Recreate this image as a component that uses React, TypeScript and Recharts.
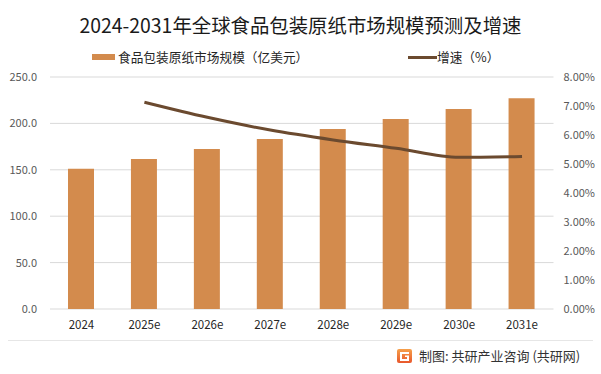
import { ComposedChart, Bar, Line, XAxis, YAxis, CartesianGrid } from 'recharts'

const YEARS = ['2024', '2025e', '2026e', '2027e', '2028e', '2029e', '2030e', '2031e']
const MARKET_SIZE = [151.0, 161.6, 172.4, 183.2, 194.0, 204.7, 215.5, 227.0]
const GROWTH_PCT = [null, 7.13, 6.61, 6.17, 5.83, 5.54, 5.23, 5.26]
const LEFT_TICKS = [0, 50, 100, 150, 200, 250]
const RIGHT_TICKS = [0, 1, 2, 3, 4, 5, 6, 7, 8]

const BAR_COLOR = '#D38B4D'
const LINE_COLOR = '#6B4A2F'
const FONT = '"Noto Sans CJK SC", "Noto Sans", sans-serif'

const data = YEARS.map((year, i) => ({
  year,
  size: MARKET_SIZE[i],
  growth: GROWTH_PCT[i],
}))

export default function App() {
  const tickStyle = { fontSize: 11, fill: '#595959', fontFamily: FONT }

  return (
    <div
      style={{
        position: 'absolute',
        left: 0,
        top: 0,
        width: 601,
        height: 374,
        background: '#fff',
        fontFamily: FONT,
        overflow: 'hidden',
      }}
    >
      {/* 标题 */}
      <div
        style={{
          position: 'absolute',
          top: 10,
          left: 0,
          width: 601,
          textAlign: 'center',
          fontSize: 19.4,
          lineHeight: '30px',
          color: '#1a1a1a',
        }}
      >
        2024-2031年全球食品包装原纸市场规模预测及增速
      </div>

      {/* 图例 */}
      <div style={{ position: 'absolute', left: 92, top: 54, width: 23, height: 6, background: BAR_COLOR }} />
      <div style={{ position: 'absolute', left: 118, top: 47, fontSize: 12.7, lineHeight: '20px', color: '#262626' }}>
        食品包装原纸市场规模（亿美元）
      </div>
      <div style={{ position: 'absolute', left: 408, top: 56, width: 29, height: 3, background: LINE_COLOR }} />
      <div style={{ position: 'absolute', left: 437, top: 47, fontSize: 12.7, lineHeight: '20px', color: '#262626' }}>
        增速（%）
      </div>

      <div style={{ position: 'absolute', left: 0, top: 0 }}>
        <ComposedChart
          width={601}
          height={374}
          data={data}
          margin={{ top: 77, right: 0, left: 0, bottom: 35 }}
        >
          <CartesianGrid yAxisId="left" vertical={false} stroke="#d9d9d9" />
          <XAxis
            dataKey="year"
            axisLine={false}
            tickLine={false}
            tickSize={0}
            tickMargin={12}
            height={30}
            tick={{ fontSize: 11.5, fill: '#262626', fontFamily: FONT }}
            interval={0}
          />
          <YAxis
            yAxisId="left"
            domain={[0, 250]}
            ticks={LEFT_TICKS}
            width={50}
            axisLine={false}
            tickLine={false}
            tickSize={0}
            tickMargin={13}
            tick={tickStyle}
            tickFormatter={(v: number) => v.toFixed(1)}
          />
          <YAxis
            yAxisId="right"
            orientation="right"
            domain={[0, 8]}
            ticks={RIGHT_TICKS}
            width={47.5}
            axisLine={false}
            tickLine={false}
            tickSize={0}
            tickMargin={10}
            tick={{ ...tickStyle, textAnchor: 'start' }}
            tickFormatter={(v: number) => `${v.toFixed(2)}%`}
          />
          <Bar yAxisId="left" dataKey="size" fill={BAR_COLOR} barSize={26} isAnimationActive={false} />
          <Line
            yAxisId="right"
            type="monotone"
            dataKey="growth"
            stroke={LINE_COLOR}
            strokeWidth={3}
            dot={false}
            activeDot={false}
            isAnimationActive={false}
          />
        </ComposedChart>
      </div>

      {/* 底部分隔线与来源 */}
      <div style={{ position: 'absolute', left: 8, top: 340, width: 585, height: 1, background: '#e6e6e6' }} />
      <svg style={{ position: 'absolute', left: 397, top: 349 }} width={15} height={14}>
        <defs>
          <linearGradient id="logoGrad" x1="0" y1="0" x2="0" y2="1">
            <stop offset="0%" stopColor="#F6A04A" />
            <stop offset="100%" stopColor="#E8572C" />
          </linearGradient>
        </defs>
        <rect x={0} y={0} width={15} height={14} rx={2} fill="url(#logoGrad)" />
        <path d="M3 3 H12 V5 H5 V10 H10 V8 H8 V6.5 H12 V12 H3 Z" fill="#fff" />
      </svg>
      <div style={{ position: 'absolute', left: 419, top: 346, fontSize: 13, lineHeight: '20px', color: '#333' }}>
        制图: 共研产业咨询 (共研网)
      </div>
    </div>
  )
}
